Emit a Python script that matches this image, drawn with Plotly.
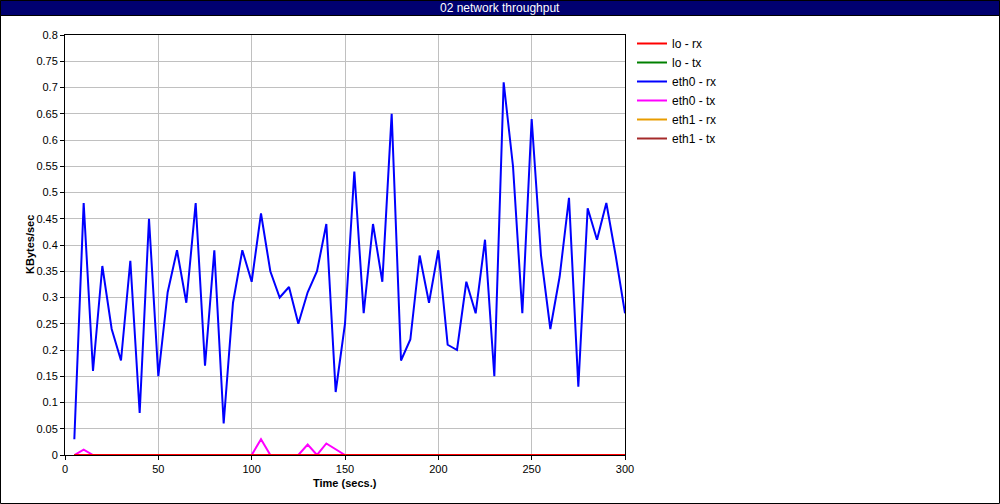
import plotly.graph_objects as go

time_s = list(range(5, 305, 5))

eth0_rx = [0.03, 0.48, 0.16, 0.36, 0.24, 0.18, 0.37, 0.08, 0.45, 0.15,
           0.31, 0.39, 0.29, 0.48, 0.17, 0.39, 0.06, 0.29, 0.39, 0.33,
           0.46, 0.35, 0.30, 0.32, 0.25, 0.31, 0.35, 0.44, 0.12, 0.25,
           0.54, 0.27, 0.44, 0.33, 0.65, 0.18, 0.22, 0.38, 0.29, 0.39,
           0.21, 0.20, 0.33, 0.27, 0.41, 0.15, 0.71, 0.55, 0.27, 0.64,
           0.38, 0.24, 0.34, 0.49, 0.13, 0.47, 0.41, 0.48, 0.38, 0.27]

eth0_tx = [0, 0.01, 0, 0, 0, 0, 0, 0, 0, 0,
           0, 0, 0, 0, 0, 0, 0, 0, 0, 0,
           0.03, 0, 0, 0, 0, 0.02, 0, 0.022, 0.011, 0,
           0, 0, 0, 0, 0, 0, 0, 0, 0, 0,
           0, 0, 0, 0, 0, 0, 0, 0, 0, 0,
           0, 0, 0, 0, 0, 0, 0, 0, 0, 0]

zeros = [0] * len(time_s)
lo_rx = zeros
lo_tx = zeros
eth1_rx = zeros
eth1_tx = zeros

series_names = ["lo - rx", "lo - tx", "eth0 - rx", "eth0 - tx", "eth1 - rx", "eth1 - tx"]
series_values = [lo_rx, lo_tx, eth0_rx, eth0_tx, eth1_rx, eth1_tx]
series_colors = ["#FF0000", "#008000", "#0000FF", "#FF00FF", "#E89C00", "#A52A2A"]

y_ticks = [round(i * 0.05, 2) for i in range(17)]
y_tick_text = ["0"] + [("%g" % v) for v in y_ticks[1:]]
x_ticks = [0, 50, 100, 150, 200, 250, 300]

FONT = "Liberation Sans Narrow, Arial Narrow, Liberation Sans, Arial, sans-serif"
FONT2 = "Liberation Sans, Arial, sans-serif"

fig = go.Figure()
# draw in reverse so the first series sits on top
for i in reversed(range(len(series_names))):
    fig.add_trace(go.Scatter(
        x=time_s, y=series_values[i], mode="lines", name=series_names[i],
        line=dict(color=series_colors[i], width=2),
        legendrank=i + 1,
    ))

L, T, R, B = 65, 35, 625, 455
W, H = 1000, 504
pw, ph = R - L, B - T
def px(x):
    return (x - L) / pw
def py(y):
    return (B - y) / ph

fig.update_layout(
    width=W, height=H,
    margin=dict(l=L, r=W - R, t=T, b=H - B, pad=0),
    paper_bgcolor="white", plot_bgcolor="white",
    showlegend=True,
    legend=dict(x=px(632), y=py(29), xanchor="left", yanchor="top",
                font=dict(family=FONT2, size=12, color="black"),
                bgcolor="rgba(0,0,0,0)", borderwidth=0, tracegroupgap=0,
                traceorder="normal"),
    xaxis=dict(range=[0, 300], tickvals=x_ticks, showgrid=True, gridcolor="#C0C0C0",
               gridwidth=1, showline=True, linecolor="black", linewidth=1, mirror=True,
               ticks="outside", ticklen=4, tickcolor="black", zeroline=False,
               tickfont=dict(family=FONT2, size=11, color="black")),
    yaxis=dict(range=[0, 0.8], tickvals=y_ticks, ticktext=y_tick_text, showgrid=True,
               gridcolor="#C0C0C0", gridwidth=1, showline=True, linecolor="black",
               linewidth=1, mirror=True, ticks="outside", ticklen=4, tickcolor="black",
               zeroline=False, tickfont=dict(family=FONT2, size=11, color="black")),
    shapes=[
        dict(type="rect", xref="paper", yref="paper", x0=px(0.5), x1=px(999.5),
             y0=py(503.5), y1=py(0.5), line=dict(color="black", width=1),
             fillcolor="rgba(0,0,0,0)", layer="below"),
        dict(type="rect", xref="paper", yref="paper", x0=px(0.5), x1=px(999.5),
             y0=py(15.5), y1=py(0.5), line=dict(color="black", width=1),
             fillcolor="#000070", layer="above"),
    ],
    annotations=[
        dict(text="02 network throughput", xref="paper", yref="paper", x=px(500),
             y=py(8), xanchor="center", yanchor="middle", showarrow=False,
             font=dict(family=FONT, size=12, color="white")),
        dict(text="<b>Time (secs.)</b>", xref="paper", yref="paper", x=px(345),
             y=py(483), xanchor="center", yanchor="middle", showarrow=False,
             font=dict(family=FONT2, size=11, color="black")),
        dict(text="<b>KBytes/sec</b>", xref="paper", yref="paper", x=px(30),
             y=py(245), xanchor="center", yanchor="middle", showarrow=False,
             textangle=-90, font=dict(family=FONT2, size=11, color="black")),
    ],
)

fig.write_html("out.html", config={"displayModeBar": False},
               post_script="document.body.style.margin='0';document.body.style.overflow='hidden';")
